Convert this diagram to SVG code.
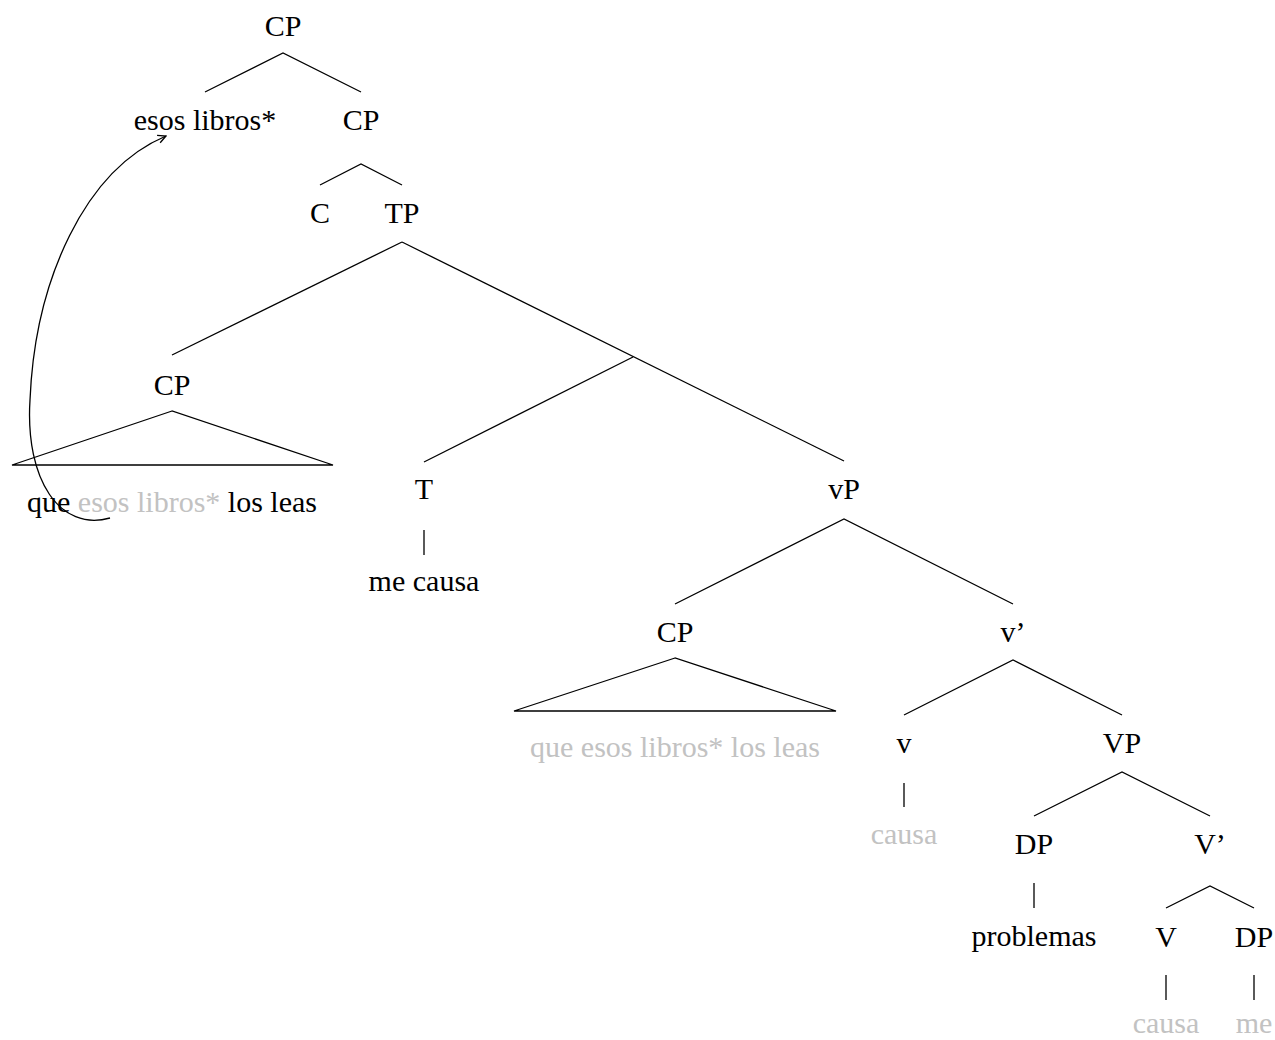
<svg xmlns="http://www.w3.org/2000/svg" width="1275" height="1040" viewBox="0 0 1275 1040">
<style>
text{font-family:"Liberation Serif","DejaVu Serif",serif;font-size:30px;fill:#000;text-anchor:middle}
.g{fill:#c2c2c2}
line,polyline,path{stroke:#000;stroke-width:1.3;fill:none}
</style>
<defs>
<marker id="ah" viewBox="0 0 10 10" refX="9" refY="5" markerWidth="10" markerHeight="10" markerUnits="userSpaceOnUse" orient="auto">
<path d="M1,1 L9,5 L1,9" stroke="#000" stroke-width="1.2" fill="none"/>
</marker>
</defs>
<g id="connectors">
<polyline points="205,92 283,53 361,92"/>
<polyline points="320,185 361,164 402,185"/>
<line x1="402" y1="242" x2="172" y2="355"/>
<line x1="402" y1="242" x2="844" y2="461"/>
<line x1="633" y1="357" x2="424" y2="462"/>
<polygon points="172,411 12,465 333,465" style="stroke:#000;stroke-width:1.3;fill:none"/>
<line x1="424" y1="530" x2="424" y2="555"/>
<polyline points="675,604 844,519 1013,604"/>
<polygon points="675,658 514,711 836,711" style="stroke:#000;stroke-width:1.3;fill:none"/>
<polyline points="904,715 1013,660 1122,715"/>
<line x1="904" y1="783" x2="904" y2="807"/>
<polyline points="1034,816 1122,772 1210,816"/>
<line x1="1034" y1="883" x2="1034" y2="908"/>
<polyline points="1166,908 1210,886 1254,908"/>
<line x1="1166" y1="975" x2="1166" y2="1000"/>
<line x1="1254" y1="975" x2="1254" y2="1000"/>
<path d="M110,518 C60,532 25,480 30,400 C35,280 85,170 166,136" marker-end="url(#ah)"/>
</g>
<g id="n-cp-root"><text x="283" y="36">CP</text></g>
<g id="n-esos"><text x="205" y="130">esos libros*</text></g>
<g id="n-cp2"><text x="361" y="130">CP</text></g>
<g id="n-c"><text x="320" y="223">C</text></g>
<g id="n-tp"><text x="402" y="223">TP</text></g>
<g id="n-cp3"><text x="172" y="395">CP</text></g>
<g id="n-cp3-text"><text x="172" y="512">que <tspan class="g">esos libros*</tspan> los leas</text></g>
<g id="n-t"><text x="424" y="499">T</text></g>
<g id="n-mecausa"><text x="424" y="591">me causa</text></g>
<g id="n-vp-small"><text x="844" y="499">vP</text></g>
<g id="n-cp4"><text x="675" y="642">CP</text></g>
<g id="n-cp4-text"><text class="g" x="675" y="757">que esos libros* los leas</text></g>
<g id="n-vbar"><text x="1013" y="642">v’</text></g>
<g id="n-v"><text x="904" y="753">v</text></g>
<g id="n-causa1"><text class="g" x="904" y="844">causa</text></g>
<g id="n-VP"><text x="1122" y="753">VP</text></g>
<g id="n-dp1"><text x="1034" y="854">DP</text></g>
<g id="n-problemas"><text x="1034" y="946">problemas</text></g>
<g id="n-Vbar"><text x="1210" y="854">V’</text></g>
<g id="n-V"><text x="1166" y="947">V</text></g>
<g id="n-dp2"><text x="1254" y="947">DP</text></g>
<g id="n-causa2"><text class="g" x="1166" y="1033">causa</text></g>
<g id="n-me"><text class="g" x="1254" y="1033">me</text></g>
</svg>
